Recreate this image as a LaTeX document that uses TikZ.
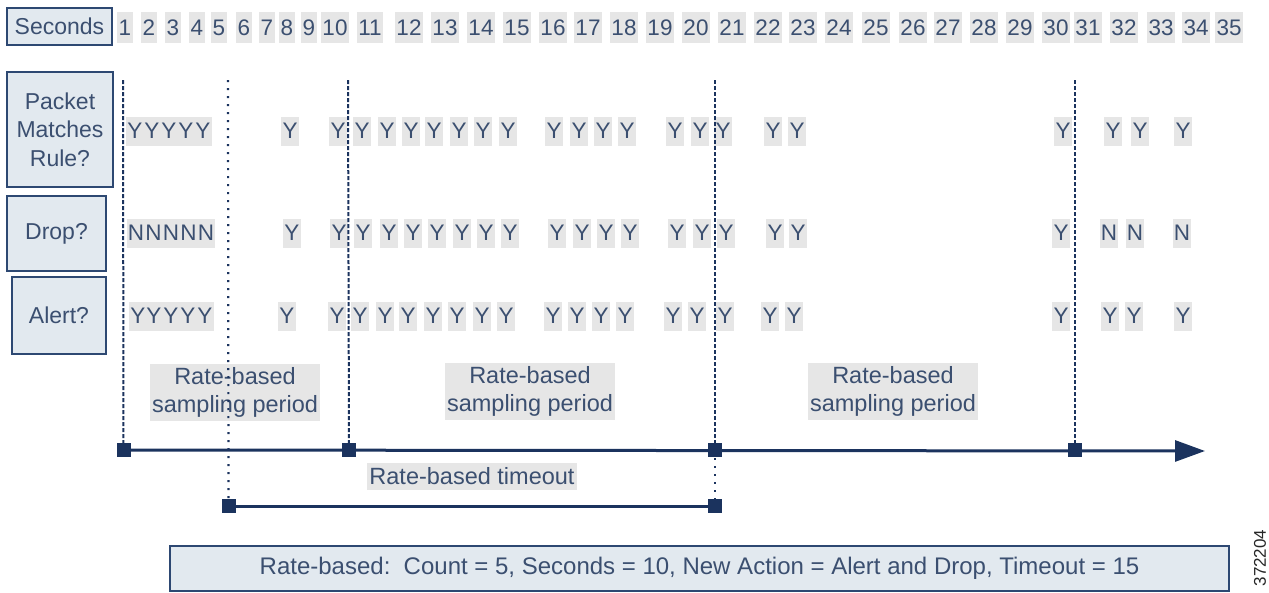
\documentclass[tikz,border=0pt]{standalone}
\usepackage{fontspec}
\setmainfont{Liberation Sans}
\usetikzlibrary{arrows.meta}
\definecolor{txt}{HTML}{3B4F70}
\definecolor{navy}{HTML}{1B335E}
\definecolor{boxf}{HTML}{E2E9EF}
\definecolor{boxd}{HTML}{2D4872}
\definecolor{cellg}{HTML}{E6E6E6}
\begin{document}
\begin{tikzpicture}[x=1pt,y=-1pt,
  lblbox/.style={draw=boxd, line width=2.5pt, fill=boxf, text=txt, align=center,
    font=\fontsize{23}{28.5}\selectfont, inner sep=0pt},
  cell/.style={fill=cellg, text=txt, font=\fontsize{22.5}{27}\selectfont,
    inner xsep=1.2pt, inner ysep=0pt, minimum height=29pt},
  numcell/.style={cell, minimum height=31pt, inner xsep=1.5pt},
  sq/.style={fill=navy, minimum size=14pt, inner sep=0pt},
  gbox/.style={fill=cellg, text=txt, align=center, font=\fontsize{23.5}{28}\selectfont,
    inner xsep=1pt, inner ysep=0pt},
  vdash/.style={navy, line width=2pt, dash pattern=on 4pt off 2pt},
  vdot/.style={navy, line width=2.2pt, dash pattern=on 2pt off 6pt},
  tline/.style={navy, line width=3pt}]
\useasboundingbox (0,0) rectangle (1269,592);

% seconds header
\node[lblbox, minimum width=105pt, minimum height=37pt] (sec) at (59.5,26.5) {Seconds};
\foreach \n/\x in {1/125,2/149,3/173,4/197,5/219,6/244,7/267,8/287,9/309,10/335,
  11/370,12/409,13/445,14/481,15/517,16/553,17/588,18/624,19/660,20/696,21/732,
  22/768,23/803,24/839,25/876,26/913,27/948,28/984,29/1020,30/1056,31/1088,
  32/1124,33/1161,34/1196,35/1229}
  \node[numcell] (s\n) at (\x,27.5) {\n};

% grey period labels
\node[gbox, minimum width=170pt, minimum height=57pt] (per1) at (235,392) {Rate-based\\sampling period};
\node[gbox, minimum width=170pt, minimum height=57pt] (per2) at (530,391) {Rate-based\\sampling period};
\node[gbox, minimum width=170pt, minimum height=57pt] (per3) at (893,391) {Rate-based\\sampling period};
\node[gbox, minimum height=27pt, inner xsep=2pt] (tmo) at (472,476.5) {Rate-based timeout};

% row: packet matches rule
\foreach \x [count=\i] in {135,152,169,186,203,290,338,362,387,411,434,459,483,508,
  554,579,603,627,675,700,723,773,797,1063,1113,1140,1183}
  \node[cell] (p\i) at (\x,131) {Y};
% row: drop
\foreach \x/\c [count=\i] in {136/N,153.5/N,171/N,188.5/N,206/N,292/Y,339/Y,363/Y,389/Y,
  413/Y,437/Y,462/Y,486/Y,510/Y,557/Y,582/Y,606/Y,630/Y,677/Y,702/Y,726/Y,775/Y,
  798/Y,1061/Y,1109/N,1135/N,1182/N}
  \node[cell] (d\i) at (\x,233) {\c};
% row: alert
\foreach \x [count=\i] in {138,154,171,188,205,287,337,360,385,408,433,457,482,506,
  553,577,601,625,673,697,725,770,794,1061,1110,1134,1183}
  \node[cell] (a\i) at (\x,316) {Y};

% vertical marker lines
\coordinate (t1) at (123,80);
\coordinate (t2) at (228,80);
\coordinate (t3) at (348,80);
\coordinate (t4) at (715,80);
\coordinate (t5) at (1075,80);
\coordinate (m1) at (123.5,450);
\coordinate (m2) at (349,450);
\coordinate (m3) at (715,450);
\coordinate (m4) at (1075,450);
\coordinate (n1) at (228.5,506);
\coordinate (n2) at (715,506);
\coordinate (tip) at (1205,451);

\draw[vdash] (t1) -- (m1);
\draw[vdot] (t2) -- (n1);
\draw[vdash] (t3) -- (m2);
\draw[vdash] (t4) -- (m3);
\draw[vdot] (m3) -- (n2);
\draw[vdash] (t5) -- (m4);

% timelines
\draw[tline, -{Triangle[length=30pt,width=21pt]}] (m1) -- (tip);
\draw[tline] (n1) -- (n2);
\foreach \c in {m1,m2,m3,m4,n1,n2}
  \node[sq] (q\c) at (\c) {};

% row labels
\node[lblbox, minimum width=106pt, minimum height=115pt] (pkt) at (60,129.5) {Packet\\Matches\\Rule?};
\node[lblbox, minimum width=99pt, minimum height=75pt] (drp) at (56.5,233.5) {Drop?};
\node[lblbox, minimum width=94pt, minimum height=77pt] (alr) at (59,315.5) {Alert?};

% bottom parameters box
\node[lblbox, font=\fontsize{24}{28}\selectfont, minimum width=1059pt, minimum height=45pt] (par) at (699.5,568.5)
  {Rate-based:\ \ Count = 5, Seconds = 10, New Action = Alert and Drop, Timeout = 15};

\node[rotate=90, font=\fontsize{17}{20}\selectfont, text=black!85, inner sep=0pt] (fig) at (1260,558) {372204};
\end{tikzpicture}
\end{document}
